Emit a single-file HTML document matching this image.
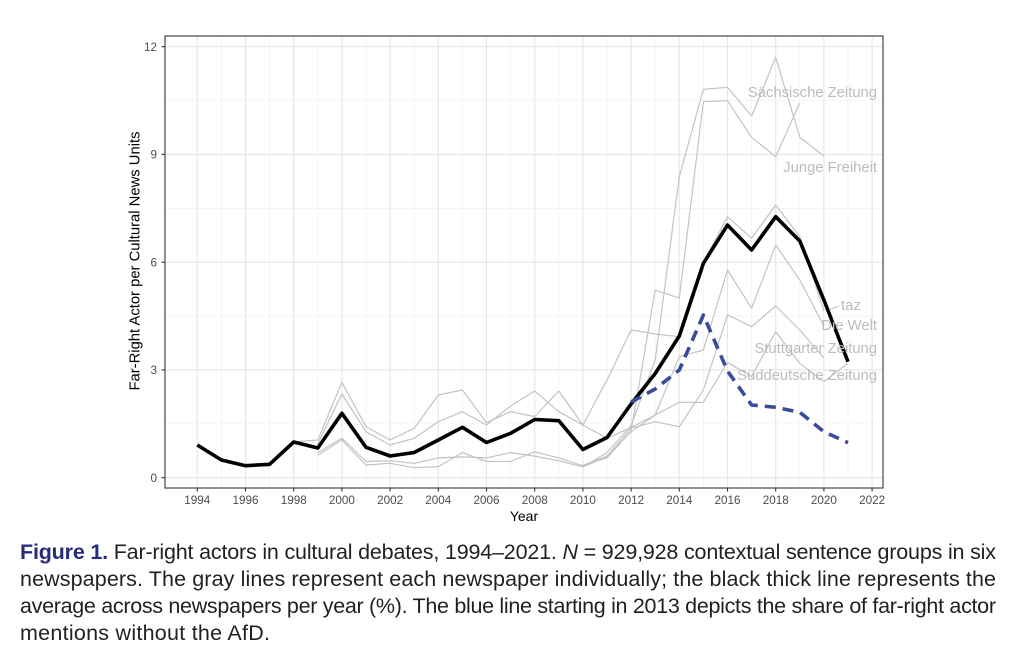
<!DOCTYPE html>
<html>
<head>
<meta charset="utf-8">
<style>
  html,body{margin:0;padding:0;background:#ffffff;}
  svg{display:block;}
  .tick{font-family:"Liberation Sans",Arial,sans-serif;font-size:11.7px;fill:#4d4d4d;}
  .lab{font-family:"Liberation Sans",Arial,sans-serif;font-size:14.8px;fill:#bcbcbc;}
  .cap{font-family:"Liberation Sans",Arial,sans-serif;font-size:21.5px;fill:#231f20;}
</style>
</head>
<body>
<svg width="1011" height="659" viewBox="0 0 1011 659" xmlns="http://www.w3.org/2000/svg">
  <rect x="0" y="0" width="1011" height="659" fill="#ffffff"/>

  <!-- minor grid -->
  <g stroke="#f1f1f1" stroke-width="0.7" fill="none">
    <line x1="165" x2="883" y1="423.8" y2="423.8"/>
    <line x1="165" x2="883" y1="316.1" y2="316.1"/>
    <line x1="165" x2="883" y1="208.3" y2="208.3"/>
    <line x1="165" x2="883" y1="100.5" y2="100.5"/>
    <line y1="36" y2="488" x1="221.4" x2="221.4"/>
    <line y1="36" y2="488" x1="269.6" x2="269.6"/>
    <line y1="36" y2="488" x1="317.8" x2="317.8"/>
    <line y1="36" y2="488" x1="366.0" x2="366.0"/>
    <line y1="36" y2="488" x1="414.2" x2="414.2"/>
    <line y1="36" y2="488" x1="462.4" x2="462.4"/>
    <line y1="36" y2="488" x1="510.6" x2="510.6"/>
    <line y1="36" y2="488" x1="558.8" x2="558.8"/>
    <line y1="36" y2="488" x1="607.0" x2="607.0"/>
    <line y1="36" y2="488" x1="655.2" x2="655.2"/>
    <line y1="36" y2="488" x1="703.4" x2="703.4"/>
    <line y1="36" y2="488" x1="751.6" x2="751.6"/>
    <line y1="36" y2="488" x1="799.8" x2="799.8"/>
    <line y1="36" y2="488" x1="848.0" x2="848.0"/>
  </g>
  <!-- major grid -->
  <g stroke="#e6e6e6" stroke-width="1.1" fill="none">
    <line x1="165" x2="883" y1="477.7" y2="477.7"/>
    <line x1="165" x2="883" y1="369.9" y2="369.9"/>
    <line x1="165" x2="883" y1="262.2" y2="262.2"/>
    <line x1="165" x2="883" y1="154.4" y2="154.4"/>
    <line x1="165" x2="883" y1="46.7" y2="46.7"/>
    <line y1="36" y2="488" x1="197.3" x2="197.3"/>
    <line y1="36" y2="488" x1="245.5" x2="245.5"/>
    <line y1="36" y2="488" x1="293.7" x2="293.7"/>
    <line y1="36" y2="488" x1="341.9" x2="341.9"/>
    <line y1="36" y2="488" x1="390.1" x2="390.1"/>
    <line y1="36" y2="488" x1="438.3" x2="438.3"/>
    <line y1="36" y2="488" x1="486.5" x2="486.5"/>
    <line y1="36" y2="488" x1="534.7" x2="534.7"/>
    <line y1="36" y2="488" x1="582.9" x2="582.9"/>
    <line y1="36" y2="488" x1="631.1" x2="631.1"/>
    <line y1="36" y2="488" x1="679.3" x2="679.3"/>
    <line y1="36" y2="488" x1="727.5" x2="727.5"/>
    <line y1="36" y2="488" x1="775.7" x2="775.7"/>
    <line y1="36" y2="488" x1="823.9" x2="823.9"/>
    <line y1="36" y2="488" x1="872.1" x2="872.1"/>
  </g>

  <!-- gray newspaper lines -->
  <g stroke="#c3c3c3" stroke-width="1.2" fill="none" stroke-linejoin="round">
    <polyline points="582.9,465.1 607.0,457.9 631.1,431 655.2,290.2 679.3,298.1 703.4,101.7 727.5,100.7 751.6,137.3 775.7,156.7 799.8,102.7"/>
    <polyline points="582.9,466.9 607.0,452.6 631.1,425.6 655.2,360 679.3,176.7 703.4,89.3 727.5,87.3 751.6,116 775.7,57.3 799.8,137.3 823.9,156"/>
    <polyline points="293.7,441.8 317.8,440 341.9,382.3 366.0,426.7 390.1,440 414.2,428.3 438.3,395 462.4,390 486.5,422.7 510.6,411.6 534.7,416.6 558.8,391 582.9,425 607.0,380 631.1,330 655.2,334 679.3,336.7 703.4,262.2 727.5,216.7 751.6,238.3 775.7,205 799.8,236.7 823.9,311"/>
    <line x1="826" y1="311" x2="839" y2="306"/>
    <polyline points="317.8,443.6 341.9,394 366.0,431.7 390.1,445 414.2,438.3 438.3,421.7 462.4,411.7 486.5,425 510.6,406 534.7,391 558.8,411.7 582.9,425 607.0,438.3 631.1,427.4 655.2,415 679.3,356.7 703.4,350 727.5,270 751.6,308.3 775.7,245 799.8,280 823.9,326"/>
    <polyline points="317.8,455.1 341.9,440 366.0,465 390.1,463.3 414.2,467.7 438.3,466.6 462.4,452.6 486.5,461.5 510.6,461.5 534.7,451.8 558.8,457.9 582.9,465.8 607.0,456.1 631.1,428.1 655.2,421.7 679.3,426.7 703.4,390 727.5,315 751.6,326.7 775.7,306 799.8,330 823.9,358"/>
    <polyline points="317.8,452.6 341.9,438.2 366.0,461.5 390.1,460.8 414.2,463.3 438.3,457.9 462.4,456.9 486.5,457.9 510.6,452.6 534.7,456.1 558.8,460.8 582.9,466.9 607.0,456.5 631.1,431.7 655.2,415 679.3,402.3 703.4,402.3 727.5,362.3 751.6,376.7 775.7,331.7 799.8,363.3 823.9,381.7 848.0,363.3"/>
  </g>

  <!-- average black line -->
  <polyline fill="none" stroke="#000000" stroke-width="3.6" stroke-linejoin="round" stroke-linecap="butt"
    points="197.3,445 221.4,460 245.5,465.7 269.6,464.3 293.7,442 317.8,448 341.9,413.3 366.0,447.3 390.1,456 414.2,452.5 438.3,440 462.4,427.3 486.5,442.5 510.6,433.3 534.7,419.5 558.8,420.7 582.9,449.5 607.0,437.5 631.1,404 655.2,373.5 679.3,336 703.4,263.3 727.5,225 751.6,250 775.7,216.7 799.8,241 823.9,300 848.0,361.7"/>

  <!-- blue dashed line (without AfD) -->
  <polyline fill="none" stroke="#3a4b9c" stroke-width="3.6" stroke-dasharray="11 7" stroke-linejoin="round"
    points="631.1,402 655.2,389 679.3,370 703.4,315 727.5,371 751.6,405 775.7,407.3 799.8,412.3 823.9,431.7 848.0,442.7"/>

  <!-- newspaper labels -->
  <text class="lab" x="877" y="97" text-anchor="end">Sächsische Zeitung</text>
  <text class="lab" x="877" y="172" text-anchor="end">Junge Freiheit</text>
  <text class="lab" x="841" y="310">taz</text>
  <text class="lab" x="877" y="330" text-anchor="end">Die Welt</text>
  <text class="lab" x="877" y="353" text-anchor="end">Stuttgarter Zeitung</text>
  <text class="lab" x="877" y="380" text-anchor="end">Süddeutsche Zeitung</text>

  <!-- panel border -->
  <rect x="165" y="36" width="718" height="452" fill="none" stroke="#333333" stroke-width="1.1"/>

  <!-- ticks -->
  <g stroke="#333333" stroke-width="1.1">
    <line x1="161.5" x2="165" y1="477.7" y2="477.7"/>
    <line x1="161.5" x2="165" y1="369.9" y2="369.9"/>
    <line x1="161.5" x2="165" y1="262.2" y2="262.2"/>
    <line x1="161.5" x2="165" y1="154.4" y2="154.4"/>
    <line x1="161.5" x2="165" y1="46.7" y2="46.7"/>
    <line y1="488" y2="491.5" x1="197.3" x2="197.3"/>
    <line y1="488" y2="491.5" x1="245.5" x2="245.5"/>
    <line y1="488" y2="491.5" x1="293.7" x2="293.7"/>
    <line y1="488" y2="491.5" x1="341.9" x2="341.9"/>
    <line y1="488" y2="491.5" x1="390.1" x2="390.1"/>
    <line y1="488" y2="491.5" x1="438.3" x2="438.3"/>
    <line y1="488" y2="491.5" x1="486.5" x2="486.5"/>
    <line y1="488" y2="491.5" x1="534.7" x2="534.7"/>
    <line y1="488" y2="491.5" x1="582.9" x2="582.9"/>
    <line y1="488" y2="491.5" x1="631.1" x2="631.1"/>
    <line y1="488" y2="491.5" x1="679.3" x2="679.3"/>
    <line y1="488" y2="491.5" x1="727.5" x2="727.5"/>
    <line y1="488" y2="491.5" x1="775.7" x2="775.7"/>
    <line y1="488" y2="491.5" x1="823.9" x2="823.9"/>
    <line y1="488" y2="491.5" x1="872.1" x2="872.1"/>
  </g>

  <!-- y tick labels -->
  <g class="tick" text-anchor="end">
    <text x="157" y="481.9">0</text>
    <text x="157" y="374.1">3</text>
    <text x="157" y="266.4">6</text>
    <text x="157" y="158.6">9</text>
    <text x="157" y="50.9">12</text>
  </g>
  <!-- x tick labels -->
  <g class="tick" text-anchor="middle">
    <text x="197.3" y="504">1994</text>
    <text x="245.5" y="504">1996</text>
    <text x="293.7" y="504">1998</text>
    <text x="341.9" y="504">2000</text>
    <text x="390.1" y="504">2002</text>
    <text x="438.3" y="504">2004</text>
    <text x="486.5" y="504">2006</text>
    <text x="534.7" y="504">2008</text>
    <text x="582.9" y="504">2010</text>
    <text x="631.1" y="504">2012</text>
    <text x="679.3" y="504">2014</text>
    <text x="727.5" y="504">2016</text>
    <text x="775.7" y="504">2018</text>
    <text x="823.9" y="504">2020</text>
    <text x="872.1" y="504">2022</text>
  </g>

  <!-- axis titles -->
  <text x="524" y="521" text-anchor="middle" style="font-family:'Liberation Sans',Arial,sans-serif;font-size:14px;fill:#000;">Year</text>
  <text transform="translate(139.5,261) rotate(-90)" text-anchor="middle" style="font-family:'Liberation Sans',Arial,sans-serif;font-size:14.8px;fill:#000;">Far-Right Actor per Cultural News Units</text>

  <!-- caption -->
  <text class="cap" x="20" y="559" textLength="976" lengthAdjust="spacing"><tspan style="font-weight:bold;fill:#262c7a;">Figure 1.</tspan> Far-right actors in cultural debates, 1994–2021. <tspan style="font-style:italic;">N</tspan> = 929,928 contextual sentence groups in six</text>
  <text class="cap" x="20" y="586" textLength="976" lengthAdjust="spacing">newspapers. The gray lines represent each newspaper individually; the black thick line represents the</text>
  <text class="cap" x="20" y="613" textLength="976" lengthAdjust="spacing">average across newspapers per year (%). The blue line starting in 2013 depicts the share of far-right actor</text>
  <text class="cap" x="20" y="640" textLength="250" lengthAdjust="spacing">mentions without the AfD.</text>
</svg>
</body>
</html>
